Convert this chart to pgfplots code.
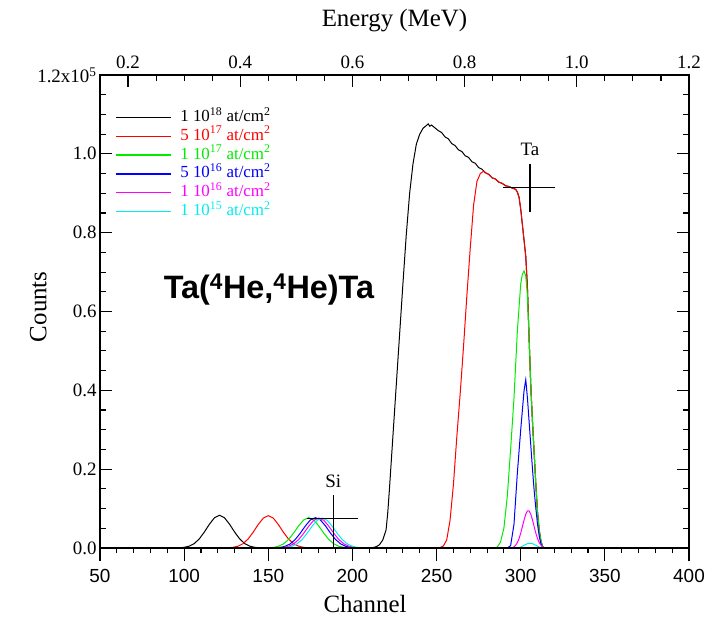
\documentclass[border=0pt]{standalone}
\usepackage{fontspec}
\setmainfont{Liberation Serif}
\newfontfamily\sansf{Liberation Sans}
\usepackage{pgfplots}
\pgfplotsset{compat=1.18}
\definecolor{cgreen}{RGB}{0,235,0}
\definecolor{cmag}{RGB}{255,0,255}
\definecolor{ccyan}{RGB}{0,238,238}
\begin{document}
\begin{tikzpicture}
\useasboundingbox (-100bp,-73bp) rectangle (611bp,548bp);
% ---------- main axis: data, frame, y ticks ----------
\begin{axis}[
  at={(0,0)}, anchor=south west, scale only axis,
  width=589bp, height=473bp,
  xmin=50, xmax=400, ymin=0, ymax=120000,
  xtick=\empty,
  ytick={0,20000,40000,60000,80000,100000,120000},
  yticklabels={0.0,0.2,0.4,0.6,0.8,1.0,1.2x10\textsuperscript{5}},
  scaled y ticks=false,
  minor y tick num=3,
  ytick pos=both,
  tick align=inside,
  major tick length=12bp, minor tick length=6bp,
  every tick/.style={black, line width=1.1bp},
  axis line style={line width=1.6bp},
  yticklabel style={font=\fontsize{19}{19}\selectfont},
  ylabel={Counts},
  ylabel style={at={(axis description cs:-0.105,0.51)}, anchor=center, font=\fontsize{25}{25}\selectfont},
  legend image code/.code={\draw[#1, line width=1.2bp] (0bp,0bp) -- (55bp,0bp); \path (64bp,0bp);},
  legend cell align=left,
  legend style={at={(axis description cs:0.0255,0.928)}, anchor=north west, draw=none, fill=none,
    inner sep=0pt, row sep=2.9bp, font=\fontsize{17}{17}\selectfont,
    nodes={inner sep=0pt, text height=12bp, text depth=4bp}},
  every axis plot/.append style={line width=1bp},
]
\addplot[black] coordinates {
(94,0) (97,50) (100,170) (103,460) (106,1120) (109,2310) (112,4040) (115,6030) (118,7660) (121,8300) (124,7660) (127,6030) (130,4040) (133,2310) (136,1120) (139,460) (142,170) (145,50) (148,0)
(208,0) (212,100) (214,300) (216,800) (218,2000) (220,4600) (221,9000) (222,15000) (224,28000) (226,41000) (228,54000) (230,67000) (232,79500) (234,90000) (236,97500) (238,102500) (240,105000) (242,106500) (244,107200) (245,107600) (246,107000) (247,107300) (249,106600) (251,105900) (253,105400) (255,104300) (257,103800) (259,102600) (261,102100) (263,101000) (265,100600) (267,99500) (269,99100) (271,98000) (273,97600) (275,96500) (277,96100) (279,95200) (281,94800) (283,93900) (285,93600) (287,92800) (289,92500) (291,91900) (293,91700) (295,91300) (297,91000) (298,90300) (299,89000) (300,86000) (301,82000) (302,78000) (303,74000) (304,66000) (305,53000) (306,41000) (307,32000) (308,24000) (309,16000) (310,9000) (311,4500) (312,1800) (313,400) (314,0) (320,0)
};
\addlegendentry{\textcolor{black}{1 10\textsuperscript{18} at/cm\textsuperscript{2}}}
\addplot[red] coordinates {
(120,0) (123,0) (126,50) (129,170) (132,460) (135,1100) (138,2280) (141,3990) (144,5950) (147,7570) (150,8200) (153,7570) (156,5950) (159,3990) (162,2280) (165,1100) (168,460) (171,170) (174,50) (177,0)
(250,0) (252,100) (254,500) (256,2000) (258,7000) (260,16000) (262,28000) (264,39000) (266,51000) (268,64000) (270,76000) (272,87000) (274,93000) (276,95000) (278,95600) (279,95200) (281,94800) (283,93900) (285,93600) (287,92800) (289,92500) (291,91900) (293,91700) (295,91300) (297,91000) (298,90300) (299,89000) (300,86000) (301,82000) (302,78000) (303,74000) (304,66000) (305,53000) (306,41000) (307,32000) (308,24000) (309,16000) (310,9000) (311,4500) (312,1800) (313,400) (314,0) (320,0)
};
\addlegendentry{\textcolor{red}{5 10\textsuperscript{17} at/cm\textsuperscript{2}}}
\addplot[cgreen] coordinates {
(147,0) (150,50) (153,150) (156,430) (159,1040) (162,2140) (165,3750) (168,5590) (171,7110) (174,7700) (177,7110) (180,5590) (183,3750) (186,2140) (189,1040) (192,430) (195,150) (198,50) (201,0)
(284,0) (286,200) (288,1500) (290,5000) (292,13000) (294,25000) (296,38000) (298,55000) (300,67000) (301,69500) (302,70300) (303,69000) (304,64000) (305,53000) (306,41000) (307,32000) (308,24000) (309,16000) (310,9000) (311,4500) (312,1800) (313,400) (314,0) (320,0)
};
\addlegendentry{\textcolor{cgreen}{1 10\textsuperscript{17} at/cm\textsuperscript{2}}}
\addplot[blue] coordinates {
(151,0) (154,50) (157,150) (160,430) (163,1040) (166,2140) (169,3750) (172,5590) (175,7110) (178,7700) (181,7110) (184,5590) (187,3750) (190,2140) (193,1040) (196,430) (199,150) (202,50) (205,0)
(292,0) (294,600) (296,6000) (298,19000) (300,30000) (301,35000) (302,40000) (303,42700) (304,38000) (305,32000) (306,26000) (307,20000) (308,14500) (309,10000) (310,6000) (311,3000) (312,1000) (313,200) (314,0) (320,0)
};
\addlegendentry{\textcolor{blue}{5 10\textsuperscript{16} at/cm\textsuperscript{2}}}
\addplot[cmag] coordinates {
(153,0) (156,50) (159,150) (162,430) (165,1030) (168,2110) (171,3700) (174,5520) (177,7020) (180,7600) (183,7020) (186,5520) (189,3700) (192,2110) (195,1030) (198,430) (201,150) (204,50) (207,0)
(295,0) (296,300) (297,720) (298,1370) (299,2380) (300,3750) (301,5420) (302,7130) (303,8570) (304,9400) (305,9400) (306,8570) (307,7130) (308,5420) (309,3750) (310,2380) (311,1370) (312,720) (313,300) (314,0) (320,0)
};
\addlegendentry{\textcolor{cmag}{1 10\textsuperscript{16} at/cm\textsuperscript{2}}}
\addplot[ccyan] coordinates {
(155,0) (158,50) (161,150) (164,430) (167,1030) (170,2110) (173,3700) (176,5520) (179,7020) (182,7600) (185,7020) (188,5520) (191,3700) (194,2110) (197,1030) (200,430) (203,150) (206,50) (209,0)
(298,0) (300,250) (302,700) (304,1100) (305,1200) (306,1200) (307,1100) (309,700) (311,250) (313,0) (320,0)
};
\addlegendentry{\textcolor{ccyan}{1 10\textsuperscript{15} at/cm\textsuperscript{2}}}
% element markers
\addplot[black, line width=1.1bp, forget plot] coordinates {(188.6,0) (188.6,13500)};
\addplot[black, line width=1.1bp, forget plot] coordinates {(172.8,7370) (203.5,7370)};
\addplot[black, line width=1.1bp, forget plot] coordinates {(305.5,85300) (305.5,97400)};
\addplot[black, line width=1.1bp, forget plot] coordinates {(289.6,91500) (320.4,91500)};
\node[font=\fontsize{19}{19}\selectfont] at (axis cs:188.6,16800) {Si};
\node[font=\fontsize{19}{19}\selectfont] at (axis cs:305.5,101000) {Ta};
\node[font=\sansf\bfseries\fontsize{32.5}{32.5}\selectfont] at (axis cs:150.4,65600) {Ta(\textsuperscript{4}He,\textsuperscript{4}He)Ta};
\end{axis}
% ---------- bottom channel axis (outward ticks) ----------
\begin{axis}[
  at={(0,0)}, anchor=south west, scale only axis,
  width=589bp, height=473bp,
  xmin=50, xmax=400, ymin=0, ymax=1,
  axis x line*=bottom, axis y line=none,
  tick align=outside,
  xtick={50,100,150,200,250,300,350,400},
  minor x tick num=4,
  major tick length=13bp, minor tick length=5bp,
  every tick/.style={black, line width=1.1bp},
  axis line style={line width=1.6bp},
  /pgf/number format/assume math mode=true,
  xticklabel style={font=\sansf\fontsize{19}{19}\selectfont, yshift=-5bp},
  xlabel={Channel},
  xlabel style={at={(axis description cs:0.45,-0.118)}, anchor=center, font=\fontsize{25}{25}\selectfont},
]
\end{axis}
% ---------- top energy axis ----------
\begin{axis}[
  at={(0,0)}, anchor=south west, scale only axis,
  width=589bp, height=473bp,
  xmin=0.15, xmax=1.2, ymin=0, ymax=1,
  axis x line*=top, axis y line=none,
  tick align=inside,
  xtick={0.2,0.4,0.6,0.8,1.0,1.2},
  xticklabels={0.2,0.4,0.6,0.8,1.0,1.2},
  minor x tick num=3,
  major tick length=12bp, minor tick length=6bp,
  every tick/.style={black, line width=1.1bp},
  axis line style={line width=1.6bp},
  xticklabel style={font=\fontsize{19}{19}\selectfont, yshift=3bp},
  xlabel={Energy (MeV)},
  xlabel style={at={(axis description cs:0.5,1.115)}, anchor=center, font=\fontsize{25}{25}\selectfont},
]
\end{axis}
\end{tikzpicture}
\end{document}
